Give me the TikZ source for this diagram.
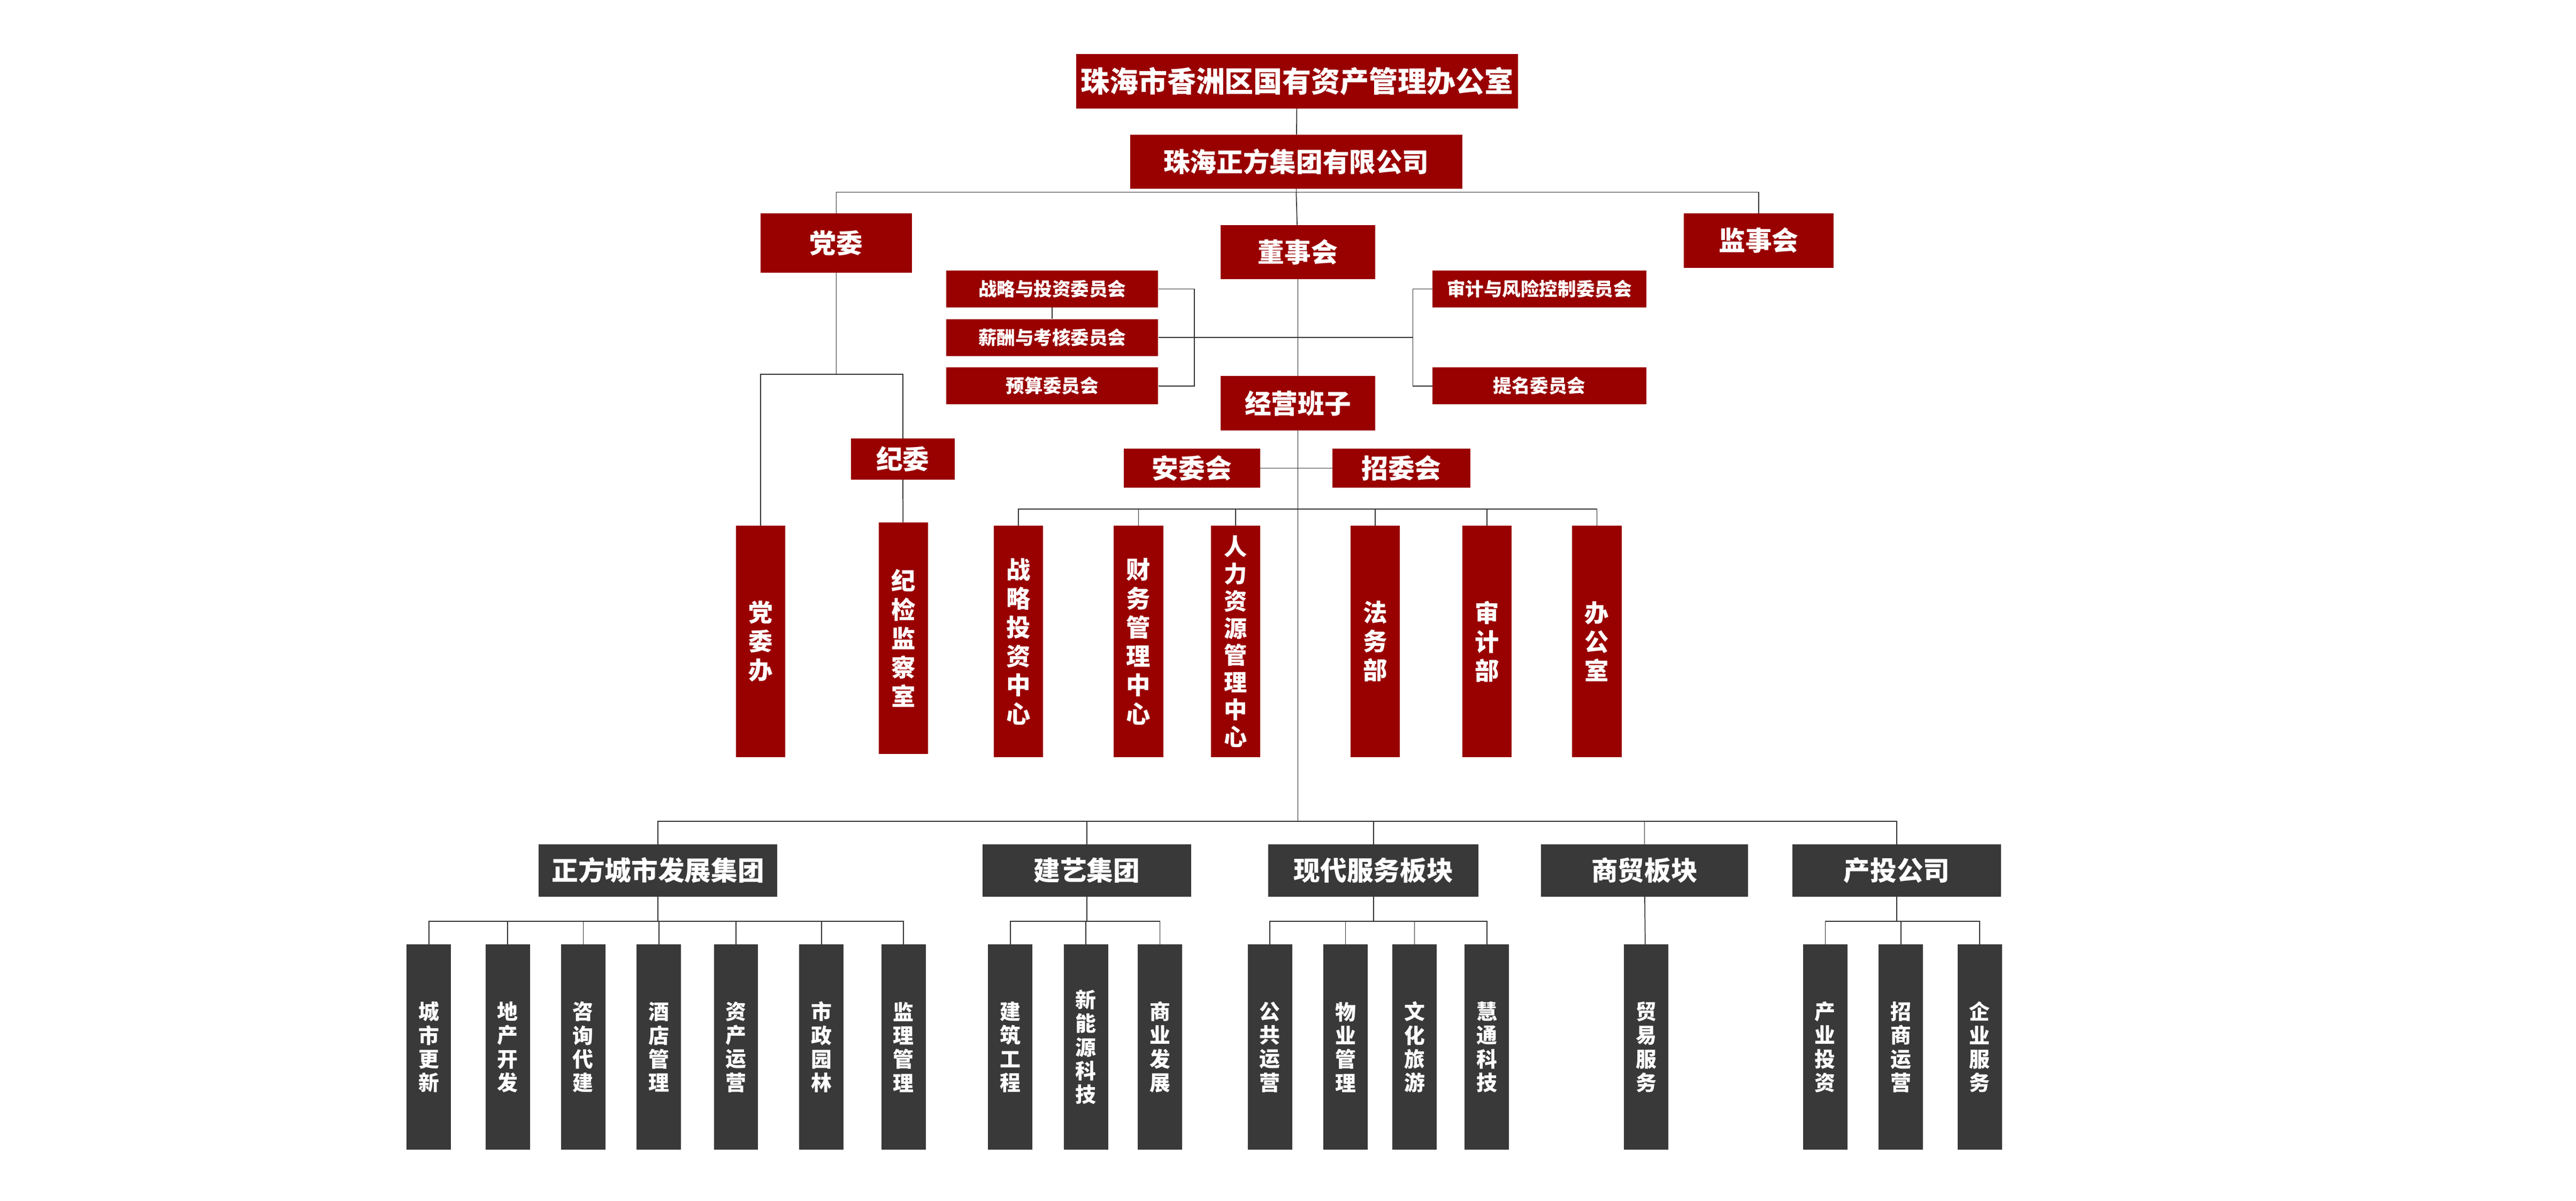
\documentclass[tikz,border=0pt]{standalone}
\usepackage{fontspec}
\setmainfont{Noto Sans CJK SC}
\usetikzlibrary{positioning}
\definecolor{zfred}{HTML}{990000}
\definecolor{zfdark}{HTML}{3A3939}
\begin{document}
\begin{tikzpicture}
        [x=0.1cm, y=-0.1cm,
        box/.style={inner sep=0pt, text=white, font=\bfseries},
        redbox/.style={box, fill=zfred},
        darkbox/.style={box, fill=zfdark},
        bigtext/.style={font=\bfseries\fontsize{50}{56}\selectfont},
        midtext/.style={font=\bfseries\fontsize{46}{52}\selectfont},
        smalltext/.style={font=\bfseries\fontsize{32}{36}\selectfont},
        redcol/.style={redbox, minimum width=3cm, minimum height=14.1cm, align=center, font=\bfseries\fontsize{42}{50}\selectfont},
        darkcol/.style={darkbox, minimum width=2.7cm, minimum height=12.5cm, align=center, font=\bfseries\fontsize{36}{41}\selectfont},
        edge/.style={draw=black!80, line width=1.6pt}]
\useasboundingbox (0,0) rectangle (1568,731);
%
%% top part
%%
\node[redbox, bigtext, minimum width=26.9cm, minimum height=3.3cm] (gzb) at (789.5,49.5) {珠海市香洲区国有资产管理办公室};
\node[redbox, midtext, minimum width=20.2cm, minimum height=3.3cm] (jt) at (789,98.5) {珠海正方集团有限公司};
\node[redbox, midtext, minimum width=9.2cm, minimum height=3.6cm] (dw) at (509,148) {党委};
\node[redbox, midtext, minimum width=9.4cm, minimum height=3.3cm] (dsh) at (790,153.5) {董事会};
\node[redbox, midtext, minimum width=9.1cm, minimum height=3.3cm] (jsh) at (1070.5,146.5) {监事会};
%
\node[redbox, smalltext, minimum width=12.9cm, minimum height=2.25cm] (zlw) at (640.5,176) {战略与投资委员会};
\node[redbox, smalltext, minimum width=12.9cm, minimum height=2.25cm] (xcw) at (640.5,205.5) {薪酬与考核委员会};
\node[redbox, smalltext, minimum width=12.9cm, minimum height=2.25cm] (ysw) at (640.5,235) {预算委员会};
\node[redbox, smalltext, minimum width=13cm, minimum height=2.25cm] (sjw) at (937,176) {审计与风险控制委员会};
\node[redbox, smalltext, minimum width=13cm, minimum height=2.25cm] (tmw) at (937,235) {提名委员会};
%
\node[redbox, midtext, minimum width=9.4cm, minimum height=3.3cm] (jybz) at (790,245.5) {经营班子};
\node[redbox, midtext, minimum width=8.3cm, minimum height=2.4cm] (awh) at (725.5,285) {安委会};
\node[redbox, midtext, minimum width=8.4cm, minimum height=2.4cm] (zwh) at (853,285) {招委会};
\node[redbox, midtext, minimum width=6.3cm, minimum height=2.5cm] (jw) at (549.5,279.5) {纪委};
%
%% departments
%%
\node[redcol, anchor=north] (dwb) at (463,320) {党\\委\\办};
\node[redcol, anchor=north] (jjs) at (550,318) {纪\\检\\监\\察\\室};
\node[redcol, anchor=north] (zltz) at (620,320) {战\\略\\投\\资\\中\\心};
\node[redcol, anchor=north] (cwgl) at (693,320) {财\\务\\管\\理\\中\\心};
\node[redcol, anchor=north, font=\bfseries\fontsize{40}{47}\selectfont] (rlzy) at (752,320) {人\\力\\资\\源\\管\\理\\中\\心};
\node[redcol, anchor=north] (fwb) at (837,320) {法\\务\\部};
\node[redcol, anchor=north] (sjb) at (905,320) {审\\计\\部};
\node[redcol, anchor=north] (bgs) at (972,320) {办\\公\\室};
%
%% subsidiaries
%%
\node[darkbox, midtext, minimum width=14.5cm, minimum height=3.2cm] (csfz) at (400.5,530) {正方城市发展集团};
\node[darkbox, midtext, minimum width=12.7cm, minimum height=3.2cm] (jyjt) at (661.5,530) {建艺集团};
\node[darkbox, midtext, minimum width=12.8cm, minimum height=3.2cm] (xdfw) at (836,530) {现代服务板块};
\node[darkbox, midtext, minimum width=12.6cm, minimum height=3.2cm] (smbk) at (1001,530) {商贸板块};
\node[darkbox, midtext, minimum width=12.7cm, minimum height=3.2cm] (ctgs) at (1154.5,530) {产投公司};
%
\node[darkcol, anchor=north] (a1) at (261,575) {城\\市\\更\\新};
\node[darkcol, anchor=north] (a2) at (309,575) {地\\产\\开\\发};
\node[darkcol, anchor=north] (a3) at (355,575) {咨\\询\\代\\建};
\node[darkcol, anchor=north] (a4) at (401,575) {酒\\店\\管\\理};
\node[darkcol, anchor=north] (a5) at (448,575) {资\\产\\运\\营};
\node[darkcol, anchor=north] (a6) at (500,575) {市\\政\\园\\林};
\node[darkcol, anchor=north] (a7) at (550,575) {监\\理\\管\\理};
\node[darkcol, anchor=north] (b1) at (615,575) {建\\筑\\工\\程};
\node[darkcol, anchor=north] (b2) at (661,575) {新\\能\\源\\科\\技};
\node[darkcol, anchor=north] (b3) at (706,575) {商\\业\\发\\展};
\node[darkcol, anchor=north] (c1) at (773,575) {公\\共\\运\\营};
\node[darkcol, anchor=north] (c2) at (819,575) {物\\业\\管\\理};
\node[darkcol, anchor=north] (c3) at (861,575) {文\\化\\旅\\游};
\node[darkcol, anchor=north] (c4) at (905,575) {慧\\通\\科\\技};
\node[darkcol, anchor=north] (d1) at (1002,575) {贸\\易\\服\\务};
\node[darkcol, anchor=north] (e1) at (1111,575) {产\\业\\投\\资};
\node[darkcol, anchor=north] (e2) at (1157,575) {招\\商\\运\\营};
\node[darkcol, anchor=north] (e3) at (1205,575) {企\\业\\服\\务};
%
%% junction points
%%
\coordinate (top) at (789,117);
\coordinate (dwj) at (509,228);
\coordinate (cmL) at (727,205.5);
\coordinate (cmR) at (860,205.5);
\coordinate (bmj) at (790,310);
\coordinate (zgs) at (790,500);
%
%% connectors
%%
\draw[edge] (gzb) -- (jt);
\draw[edge] (jt) -- (top);
\draw[edge] (dw.north) |- (top) -| (jsh.north);
\draw[edge] (top) -- (dsh);
\draw[edge] (dsh) -- (jybz);
\draw[edge] (zlw) -- (xcw);
\draw[edge] (zlw.east) -| (cmL) |- (ysw.east);
\draw[edge] (xcw.east) -- (cmR);
\draw[edge] (sjw.west) -| (cmR) |- (tmw.west);
\draw[edge] (awh) -- (zwh);
\draw[edge] (dw) -- (dwj);
\draw[edge] (dwb.north) |- (dwj) -| (jw.north);
\draw[edge] (jw) -- (jjs);
\draw[edge] (jybz) -- (zgs);
\foreach \d in {zltz,cwgl,rlzy,fwb,sjb,bgs}
    \draw[edge] (bmj) -| (\d.north);
\foreach \g in {csfz,jyjt,xdfw,smbk,ctgs}
    \draw[edge] (zgs) -| (\g.north);
\foreach \g/\k in {csfz/a1,csfz/a2,csfz/a3,csfz/a4,csfz/a5,csfz/a6,csfz/a7,
                   jyjt/b1,jyjt/b2,jyjt/b3,
                   xdfw/c1,xdfw/c2,xdfw/c3,xdfw/c4,
                   ctgs/e1,ctgs/e2,ctgs/e3}
    \draw[edge] (\g.south) -- ++(0,15) -| (\k.north);
\draw[edge] (smbk) -- (d1);
\end{tikzpicture}
\end{document}
